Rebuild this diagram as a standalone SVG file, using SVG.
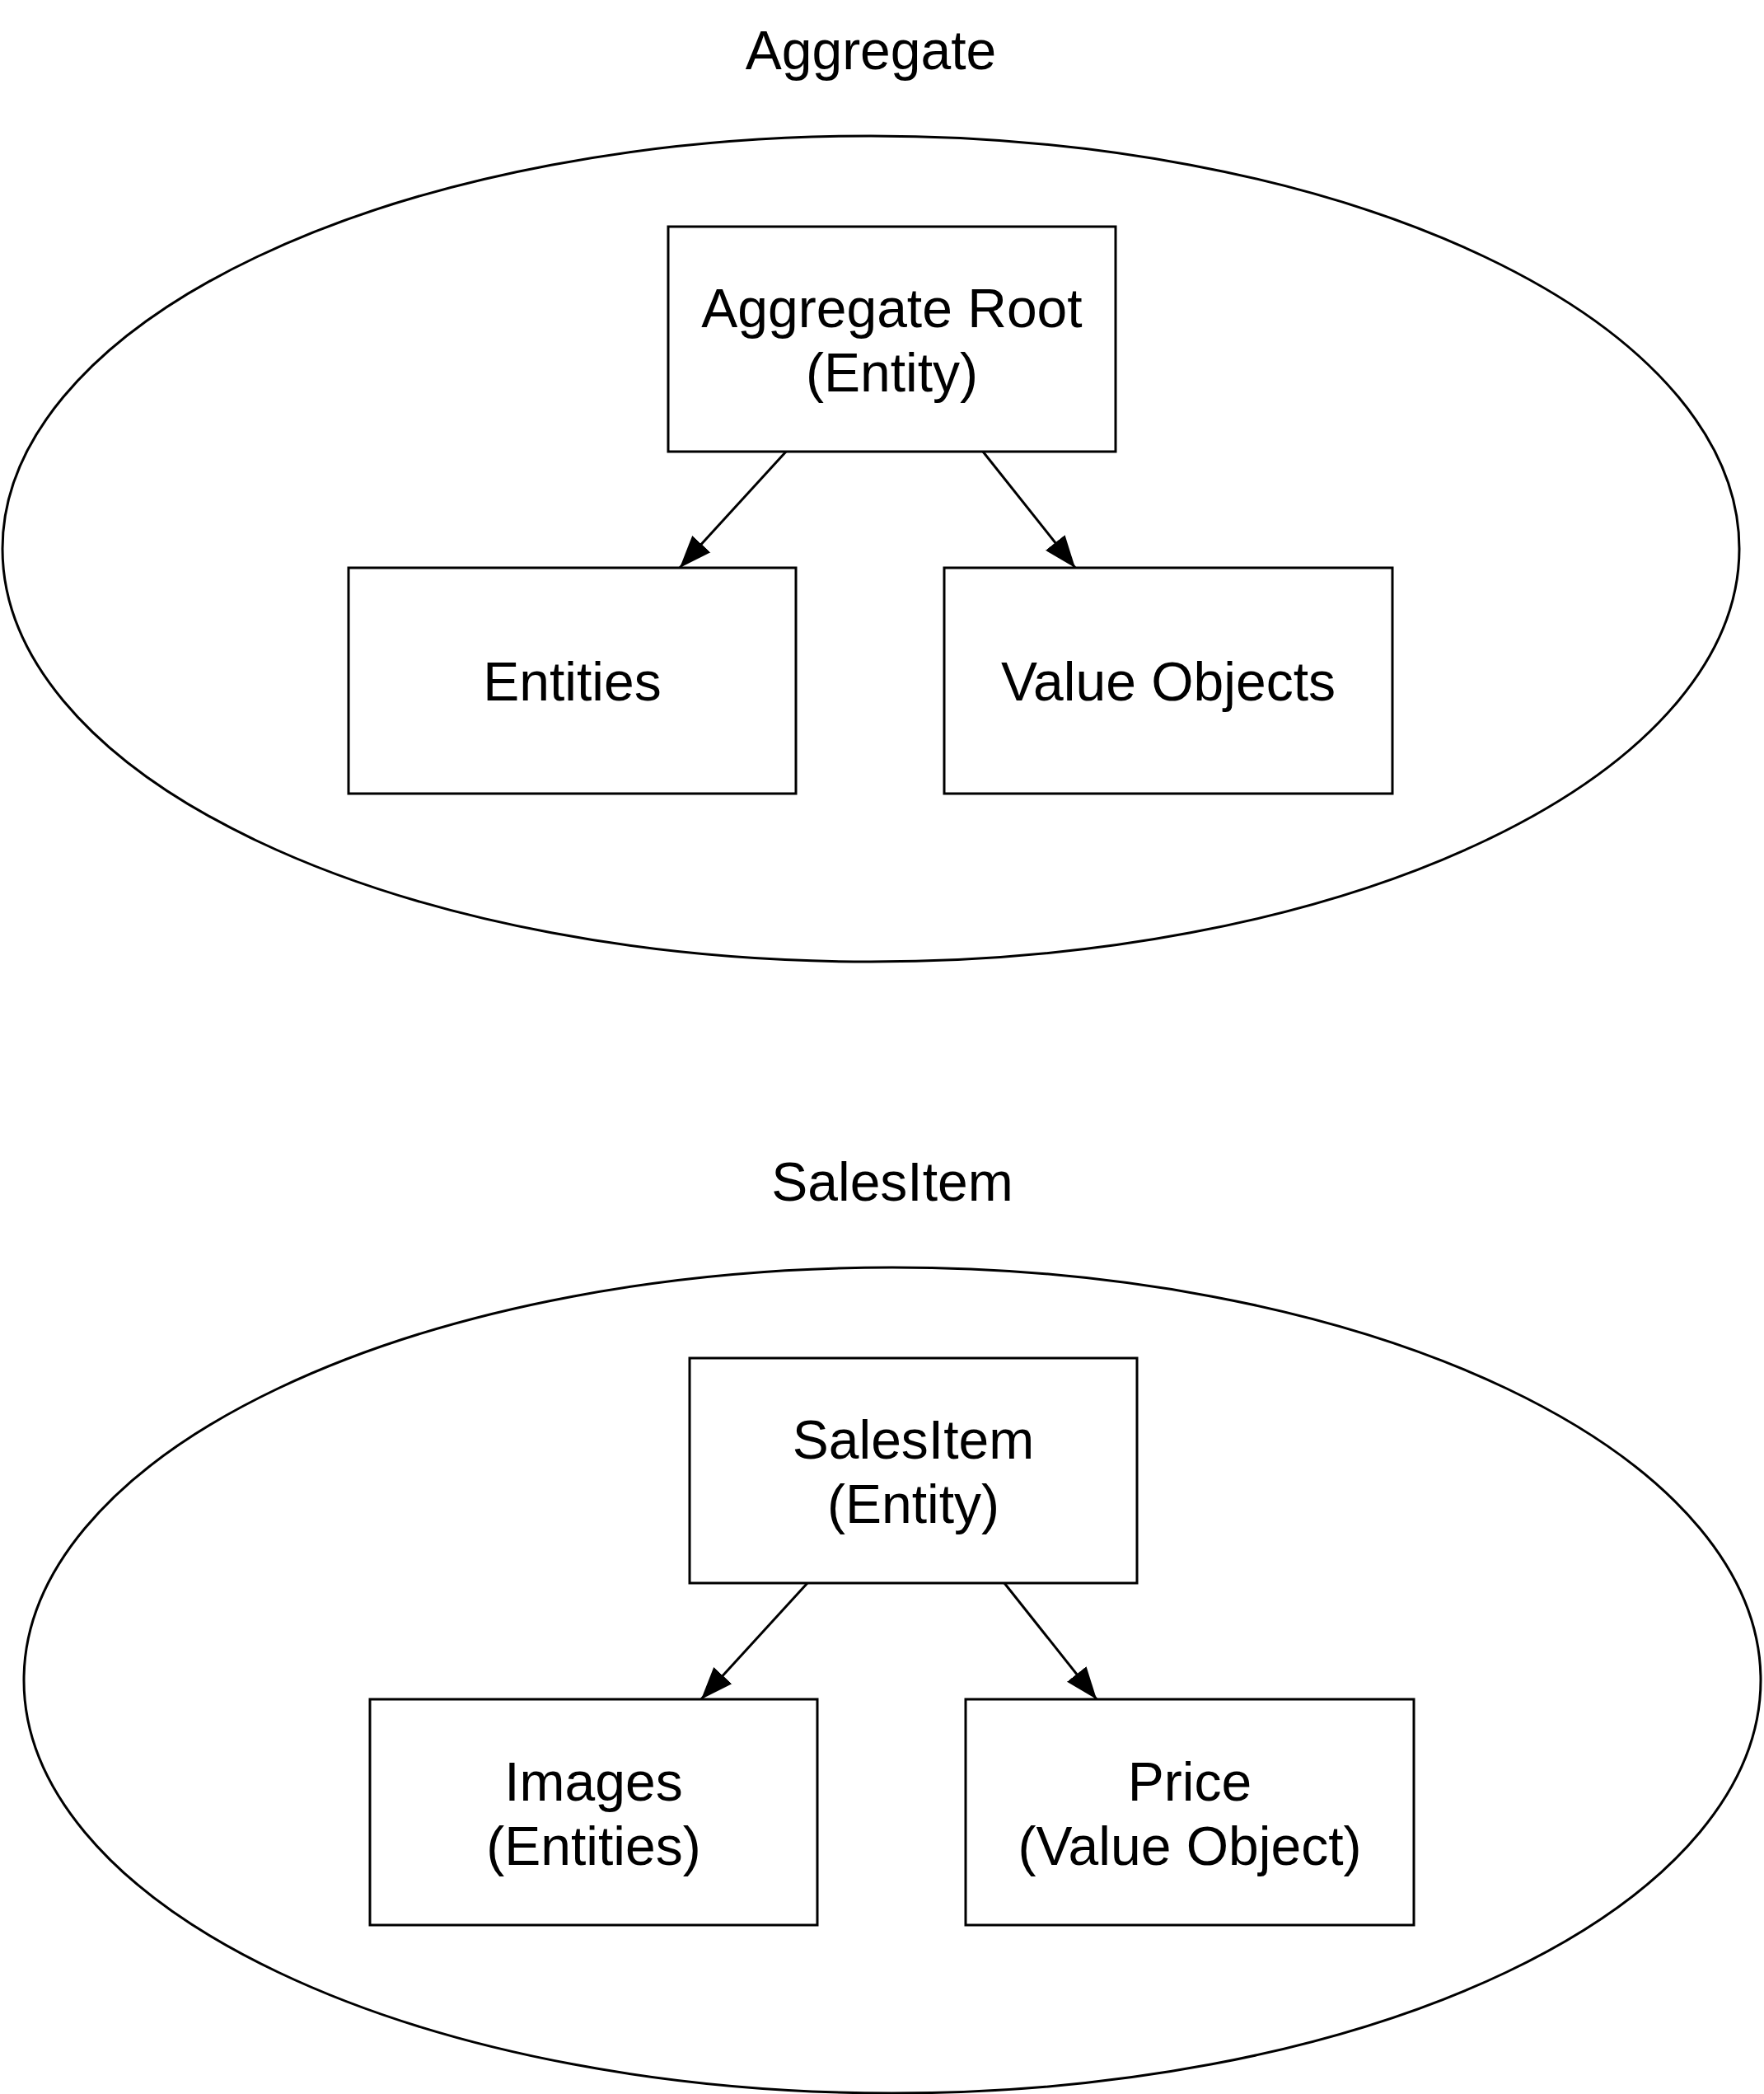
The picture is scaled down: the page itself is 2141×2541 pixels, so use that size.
<svg xmlns="http://www.w3.org/2000/svg" width="2141" height="2541" viewBox="0 0 2141 2541">
  <style>
    .shape { fill: #ffffff; stroke: #000000; stroke-width: 3; }
    .edge { fill: none; stroke: #000000; stroke-width: 3; }
    .lbl { font-family: "Liberation Sans", Arial, Helvetica, sans-serif; font-size: 66px; fill: #000000; text-anchor: middle; }
  </style>
  <defs>
    <marker id="arrow" markerUnits="userSpaceOnUse" markerWidth="40" markerHeight="32" viewBox="0 0 40 32" refX="39" refY="16" orient="auto">
      <path d="M0,1 L39,16 L0,31 Z" fill="#000000"/>
    </marker>
  </defs>
  <rect width="2141" height="2541" fill="#ffffff"/>

  <g id="aggregate-group">
    <text class="lbl" x="1057" y="84">Aggregate</text>
    <ellipse class="shape" cx="1057" cy="666" rx="1054" ry="501"/>
  </g>
  <g id="aggregate-root">
    <rect class="shape" x="811" y="275" width="543" height="273"/>
    <text class="lbl" x="1082.5" y="397">Aggregate Root</text>
    <text class="lbl" x="1082.5" y="475">(Entity)</text>
  </g>
  <g id="entities">
    <rect class="shape" x="423" y="689" width="543" height="274"/>
    <text class="lbl" x="694.5" y="850">Entities</text>
  </g>
  <g id="value-objects">
    <rect class="shape" x="1146" y="689" width="544" height="274"/>
    <text class="lbl" x="1418" y="850">Value Objects</text>
  </g>

  <g id="salesitem-group">
    <text class="lbl" x="1083" y="1457">SalesItem</text>
    <ellipse class="shape" cx="1083" cy="2039" rx="1054" ry="501"/>
  </g>
  <g id="salesitem">
    <rect class="shape" x="837" y="1648" width="543" height="273"/>
    <text class="lbl" x="1108.5" y="1770">SalesItem</text>
    <text class="lbl" x="1108.5" y="1848">(Entity)</text>
  </g>
  <g id="images">
    <rect class="shape" x="449" y="2062" width="543" height="274"/>
    <text class="lbl" x="720.5" y="2185">Images</text>
    <text class="lbl" x="720.5" y="2263">(Entities)</text>
  </g>
  <g id="price">
    <rect class="shape" x="1172" y="2062" width="544" height="274"/>
    <text class="lbl" x="1444" y="2185">Price</text>
    <text class="lbl" x="1444" y="2263">(Value Object)</text>
  </g>

  <g id="connectors">
    <line class="edge" x1="954" y1="548" x2="825" y2="689" marker-end="url(#arrow)"/>
    <line class="edge" x1="1193" y1="548" x2="1305" y2="689" marker-end="url(#arrow)"/>
    <line class="edge" x1="980" y1="1921" x2="851" y2="2062" marker-end="url(#arrow)"/>
    <line class="edge" x1="1219" y1="1921" x2="1331" y2="2062" marker-end="url(#arrow)"/>
  </g>
</svg>
